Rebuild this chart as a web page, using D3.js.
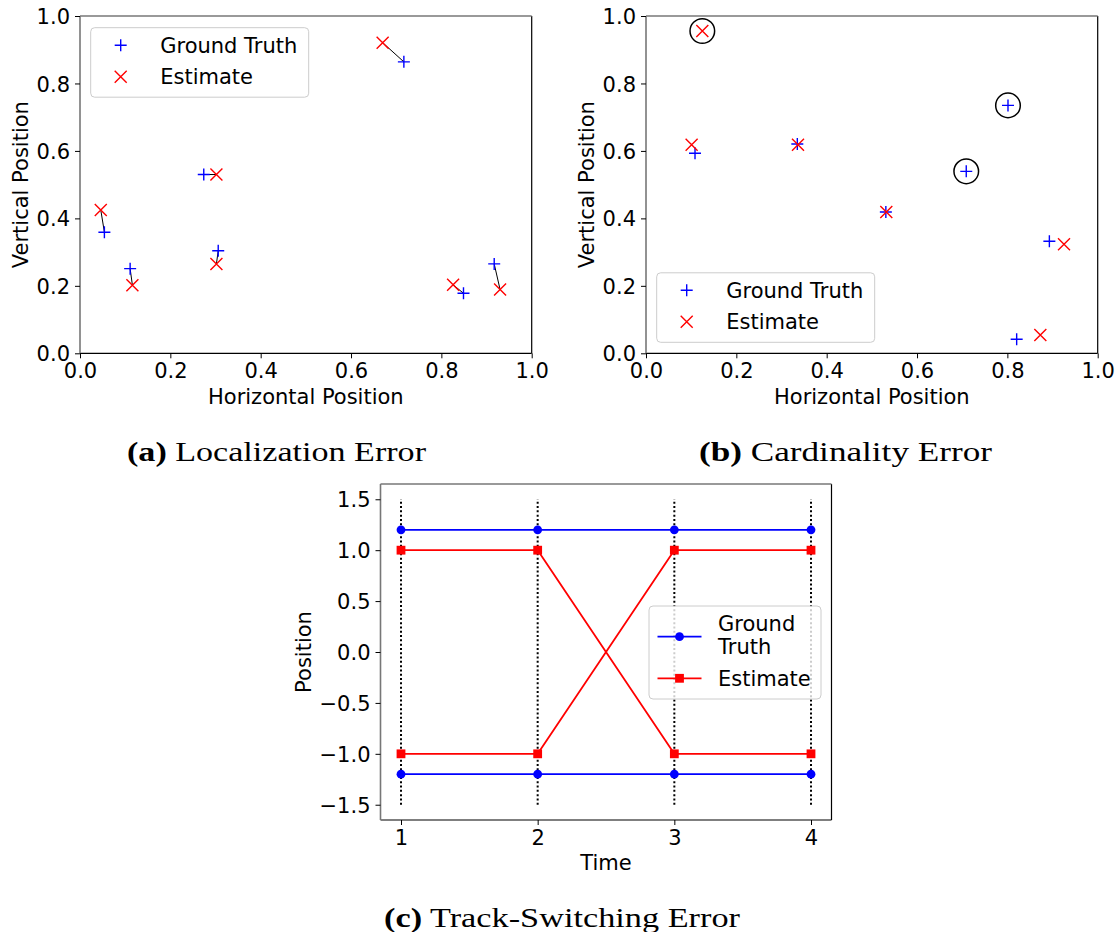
<!DOCTYPE html>
<html>
<head>
<meta charset="utf-8">
<script src="https://cdn.jsdelivr.net/npm/d3@7"></script>
<style>
  body { margin: 0; background: #fff; }
  svg { display: block; }
  .tick text { font-family: "DejaVu Sans", sans-serif; font-size: 21px; fill: #000; }
  .tick line { stroke: #000; stroke-width: 1; }
  .lab { font-family: "DejaVu Sans", sans-serif; font-size: 21px; fill: #000; }
  .cap { font-family: "Liberation Serif", serif; font-size: 27px; fill: #000; }
</style>
</head>
<body>
<svg id="fig" width="1118" height="932"></svg>
<script>
// (a) localization error: matched pairs, same index
var locTruth = [[0.054,0.359],[0.111,0.251],[0.274,0.530],[0.306,0.304],[0.717,0.864],[0.849,0.178],[0.917,0.265]];
var locEstimate = [[0.046,0.425],[0.116,0.202],[0.302,0.530],[0.302,0.265],[0.670,0.921],[0.826,0.203],[0.930,0.189]];

// (b) cardinality error
var cardTruth = [[0.1085,0.593],[0.335,0.6205],[0.531,0.419],[0.709,0.5395],[0.8014,0.735],[0.893,0.332],[0.8206,0.0415]];
var cardEstimate = [[0.1247,0.9555],[0.101,0.618],[0.3365,0.618],[0.532,0.419],[0.9254,0.323],[0.873,0.054]];
var cardTruthMissed = [3, 4];   // truth points with no estimate
var cardEstimateFalse = [0];    // estimates with no truth

// (c) track switching
var times = [1, 2, 3, 4];
var truthTracks = [[1.2, 1.2, 1.2, 1.2], [-1.2, -1.2, -1.2, -1.2]];
var estimateTracks = [[1, 1, -1, -1], [-1, -1, 1, 1]];

var unitTicks = [0, 0.2, 0.4, 0.6, 0.8, 1.0];
var posTicks = [-1.5, -1, -0.5, 0, 0.5, 1, 1.5];

var svg = d3.select("#fig");
var plusPath = "M-6,0H6M0,-6V6",
    crossPath = "M-6,-6L6,6M-6,6L6,-6";

function frame(g, w, h) {
  g.append("line").attr("x1", 0).attr("x2", w).attr("y1", h).attr("y2", h).attr("stroke", "#000").attr("stroke-width", 1.2);
  g.append("line").attr("x1", w).attr("x2", w).attr("y1", 0).attr("y2", h).attr("stroke", "#000").attr("stroke-width", 1.2);
  g.append("line").attr("x1", 0).attr("x2", w).attr("y1", 0).attr("y2", 0).attr("stroke", "#777").attr("stroke-width", 1.6);
  g.append("line").attr("x1", 0).attr("x2", 0).attr("y1", 0).attr("y2", h).attr("stroke", "#777").attr("stroke-width", 1.6);
}

function axes(g, x, y, w, h, xt, yt, xf, yf) {
  g.append("g")
      .attr("transform", "translate(0," + h + ")")
      .call(d3.axisBottom(x).tickValues(xt).tickFormat(xf).tickSize(5).tickPadding(5))
      .call(function(s) { s.select(".domain").remove(); });
  g.append("g")
      .call(d3.axisLeft(y).tickValues(yt).tickFormat(yf).tickSize(5).tickPadding(5))
      .call(function(s) { s.select(".domain").remove(); })
      .selectAll("text").attr("dy", "0.36em");
}

function markers(g, pts, x, y, path, color) {
  g.selectAll(null)
      .data(pts)
    .enter().append("path")
      .attr("transform", function(d) { return "translate(" + x(d[0]) + "," + y(d[1]) + ")"; })
      .attr("d", path)
      .attr("fill", "none")
      .attr("stroke", color)
      .attr("stroke-width", 1.4);
}

function pointLegend(g, lx, ly) {
  var lg = g.append("g").attr("transform", "translate(" + lx + "," + ly + ")");
  lg.append("rect").attr("width", 218).attr("height", 69.5).attr("rx", 4)
      .attr("fill", "#fff").attr("fill-opacity", 0.8).attr("stroke", "#ccc");
  var rows = [["Ground Truth", plusPath, "blue"], ["Estimate", crossPath, "red"]];
  rows.forEach(function(r, i) {
    var yy = 17.5 + i * 31.5;
    lg.append("path").attr("d", r[1]).attr("transform", "translate(30," + yy + ")")
        .attr("fill", "none").attr("stroke", r[2]).attr("stroke-width", 1.4);
    lg.append("text").attr("class", "lab").attr("x", 69.5).attr("y", yy).attr("dy", "0.36em").text(r[0]);
  });
}

function scatterPanel(left, top) {
  var w = 451.7, h = 337.3;
  var g = svg.append("g").attr("transform", "translate(" + left + "," + top + ")");
  var x = d3.scaleLinear().domain([0, 1]).range([0, w]),
      y = d3.scaleLinear().domain([0, 1]).range([h, 0]);
  frame(g, w, h);
  axes(g, x, y, w, h, unitTicks, unitTicks, d3.format(".1f"), d3.format(".1f"));
  g.append("text").attr("class", "lab").attr("x", w / 2).attr("y", h + 51).attr("text-anchor", "middle").text("Horizontal Position");
  g.append("text").attr("class", "lab").attr("transform", "translate(-52," + (h / 2) + ") rotate(-90)")
      .attr("text-anchor", "middle").text("Vertical Position");
  return {g: g, x: x, y: y, w: w, h: h};
}

// ---- (a)
var pa = scatterPanel(80, 16);
pa.g.selectAll(null)
    .data(locTruth)
  .enter().append("line")
    .attr("x1", function(d) { return pa.x(d[0]); })
    .attr("y1", function(d) { return pa.y(d[1]); })
    .attr("x2", function(d, i) { return pa.x(locEstimate[i][0]); })
    .attr("y2", function(d, i) { return pa.y(locEstimate[i][1]); })
    .attr("stroke", "#000").attr("stroke-width", 1);
markers(pa.g, locTruth, pa.x, pa.y, plusPath, "blue");
markers(pa.g, locEstimate, pa.x, pa.y, crossPath, "red");
pointLegend(pa.g, 10.7, 11.7);

// ---- (b)
var pb = scatterPanel(646, 16);
var circled = cardTruthMissed.map(function(i) { return cardTruth[i]; })
    .concat(cardEstimateFalse.map(function(i) { return cardEstimate[i]; }));
pb.g.selectAll(null)
    .data(circled)
  .enter().append("circle")
    .attr("cx", function(d) { return pb.x(d[0]); })
    .attr("cy", function(d) { return pb.y(d[1]); })
    .attr("r", 12.3)
    .attr("fill", "none").attr("stroke", "#000").attr("stroke-width", 1.5);
markers(pb.g, cardTruth, pb.x, pb.y, plusPath, "blue");
markers(pb.g, cardEstimate, pb.x, pb.y, crossPath, "red");
pointLegend(pb.g, 10.7, pb.h - 11 - 69.5);

// ---- (c)
var cw = 451, ch = 336;
var gc = svg.append("g").attr("transform", "translate(380.5,484)");
var xc = d3.scaleLinear().domain([0.85, 4.15]).range([0, cw]),
    yc = d3.scaleLinear().domain([-1.65, 1.65]).range([ch, 0]);

gc.selectAll(null)
    .data(times)
  .enter().append("line")
    .attr("x1", xc).attr("x2", xc)
    .attr("y1", yc(-1.5)).attr("y2", yc(1.5))
    .attr("stroke", "#000").attr("stroke-width", 2).attr("stroke-dasharray", "2,2.3");

var line = d3.line()
    .x(function(d, i) { return xc(times[i]); })
    .y(function(d) { return yc(d); });

truthTracks.forEach(function(t) {
  gc.append("path").attr("d", line(t)).attr("fill", "none").attr("stroke", "blue").attr("stroke-width", 1.7);
  gc.selectAll(null).data(t).enter().append("circle")
      .attr("cx", function(d, i) { return xc(times[i]); })
      .attr("cy", yc).attr("r", 4.4).attr("fill", "blue");
});
estimateTracks.forEach(function(t) {
  gc.append("path").attr("d", line(t)).attr("fill", "none").attr("stroke", "red").attr("stroke-width", 1.7);
  gc.selectAll(null).data(t).enter().append("rect")
      .attr("x", function(d, i) { return xc(times[i]) - 4.4; })
      .attr("y", function(d) { return yc(d) - 4.4; })
      .attr("width", 8.8).attr("height", 8.8).attr("fill", "red");
});

frame(gc, cw, ch);
axes(gc, xc, yc, cw, ch, times, posTicks, d3.format("d"), d3.format(".1f"));
gc.append("text").attr("class", "lab").attr("x", cw / 2).attr("y", ch + 50).attr("text-anchor", "middle").text("Time");
gc.append("text").attr("class", "lab").attr("transform", "translate(-70," + (ch / 2) + ") rotate(-90)")
    .attr("text-anchor", "middle").text("Position");

var lc = gc.append("g").attr("transform", "translate(268.5,122)");
lc.append("rect").attr("width", 172).attr("height", 93).attr("rx", 4)
    .attr("fill", "#fff").attr("fill-opacity", 0.8).attr("stroke", "#ccc");
lc.append("line").attr("x1", 8.5).attr("x2", 52.5).attr("y1", 30.7).attr("y2", 30.7).attr("stroke", "blue").attr("stroke-width", 1.7);
lc.append("circle").attr("cx", 30.5).attr("cy", 30.7).attr("r", 4.4).attr("fill", "blue");
lc.append("line").attr("x1", 8.5).attr("x2", 52.5).attr("y1", 72.3).attr("y2", 72.3).attr("stroke", "red").attr("stroke-width", 1.7);
lc.append("rect").attr("x", 26.1).attr("y", 67.9).attr("width", 8.8).attr("height", 8.8).attr("fill", "red");
lc.append("text").attr("class", "lab").attr("x", 69).attr("y", 17).attr("dy", "0.36em").text("Ground");
lc.append("text").attr("class", "lab").attr("x", 69).attr("y", 40).attr("dy", "0.36em").text("Truth");
lc.append("text").attr("class", "lab").attr("x", 69).attr("y", 72.3).attr("dy", "0.36em").text("Estimate");

// ---- captions
function caption(tag, rest, cx, by, len) {
  var t = svg.append("text").attr("class", "cap").attr("x", cx).attr("y", by)
      .attr("text-anchor", "middle").attr("textLength", len).attr("lengthAdjust", "spacingAndGlyphs");
  t.append("tspan").attr("font-weight", "bold").text(tag);
  t.append("tspan").text(" " + rest);
}
caption("(a)", "Localization Error", 276.5, 461, 299);
caption("(b)", "Cardinality Error", 845.5, 461, 293);
caption("(c)", "Track-Switching Error", 562, 927, 356);
</script>
</body>
</html>
